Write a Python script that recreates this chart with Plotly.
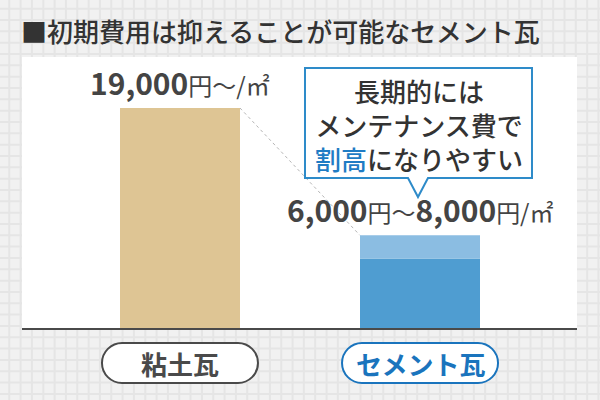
import plotly.graph_objects as go

# 屋根材ごとの初期費用（円/㎡）
categories = ["粘土瓦", "セメント瓦"]
cost_low = [19000, 6000]
cost_high = [19000, 8000]
price_main = ["19,000", "6,000"]
price_sub = ["", "8,000"]
category_colors = ["#4a4a4a", "#1a74bd"]

FONT = "Noto Sans CJK JP"

# 白いパネル（プロット領域）のピクセル位置
L, R, T, B = 22, 577, 57, 328


def fx(px):
    return (px - L) / (R - L)


def fy(py):
    return (B - py) / (B - T)


fig = go.Figure()

fig.add_trace(go.Bar(
    x=categories,
    y=cost_low,
    marker=dict(color=["#dec594", "#4f9dd1"], line=dict(width=0)),
    width=0.5,
    hoverinfo="skip",
))
fig.add_trace(go.Bar(
    x=categories,
    y=[h - l for h, l in zip(cost_high, cost_low)],
    base=cost_low,
    marker=dict(color="#8bbde2", line=dict(width=0)),
    width=0.5,
    hoverinfo="skip",
))

shapes = []

# 背景の方眼
grid = []
for k in range(54):
    x = fx(9.3 + k * 11.33)
    grid.append(f"M{x:.4f},{fy(0):.4f} L{x:.4f},{fy(400):.4f}")
for k in range(36):
    y = fy(8.7 + k * 11.33)
    grid.append(f"M{fx(0):.4f},{y:.4f} L{fx(600):.4f},{y:.4f}")
shapes.append(dict(type="path", xref="paper", yref="paper", path=" ".join(grid),
                   line=dict(color="#e5e5e5", width=2), layer="below"))

# 白いパネル
shapes.append(dict(type="rect", xref="paper", yref="paper", x0=0, x1=1, y0=0, y1=1,
                   fillcolor="white", line=dict(width=0), layer="below"))

# 棒の上端を結ぶ点線
shapes.append(dict(type="line", xref="x", yref="y",
                   x0=0.25, y0=cost_high[0], x1=0.75, y1=cost_high[1],
                   line=dict(color="#b5b5b5", width=1, dash="dot"), layer="below"))

# 吹き出し
box = [(305, 68), (532, 68), (532, 178), (428, 178), (418, 197), (408, 178), (305, 178)]
path = "M" + " L".join(f"{fx(px):.4f},{fy(py):.4f}" for px, py in box) + " Z"
shapes.append(dict(type="path", xref="paper", yref="paper", path=path,
                   fillcolor="white", line=dict(color="#2e8bc9", width=2), layer="above"))


def pill(cx, cy, w, h):
    r = h / 2
    k = 0.552 * r
    l, rr, t, b = cx - w / 2, cx + w / 2, cy - r, cy + r
    pts = [
        ("M", [(l + r, t)]),
        ("L", [(rr - r, t)]),
        ("C", [(rr - r + k, t), (rr, cy - k), (rr, cy)]),
        ("C", [(rr, cy + k), (rr - r + k, b), (rr - r, b)]),
        ("L", [(l + r, b)]),
        ("C", [(l + r - k, b), (l, cy + k), (l, cy)]),
        ("C", [(l, cy - k), (l + r - k, t), (l + r, t)]),
    ]
    s = ""
    for cmd, ps in pts:
        s += cmd + " ".join(f"{fx(px):.4f},{fy(py):.4f}" for px, py in ps) + " "
    return s + "Z"


for i, cat in enumerate(categories):
    cx = 180 + 240 * i
    shapes.append(dict(type="path", xref="paper", yref="paper", path=pill(cx, 363, 156, 40),
                       fillcolor="white", line=dict(color=category_colors[i], width=2),
                       layer="above"))

annotations = [
    dict(xref="paper", yref="paper", x=fx(19), y=fy(31), xanchor="left", yanchor="middle",
         text="■初期費用は抑えることが可能なセメント瓦", showarrow=False,
         font=dict(family=FONT, size=26, color="#333333", weight=500)),
    dict(xref="paper", yref="paper", x=fx(418.5), y=fy(124), xanchor="center", yanchor="middle",
         text="長期的には<br>メンテナンス費で<br><span style='color:#1f7cc4'>割高</span>になりやすい",
         showarrow=False, font=dict(family=FONT, size=26, color="#333333", weight=500)),
]

unit = "<span style='font-size:24px;font-weight:normal'>{}</span>"
for i, cat in enumerate(categories):
    if price_sub[i]:
        txt = f"<b>{price_main[i]}</b>" + unit.format("円～") + f"<b>{price_sub[i]}</b>" + unit.format("円/㎡")
    else:
        txt = f"<b>{price_main[i]}</b>" + unit.format("円～/㎡")
    annotations.append(dict(xref="x", yref="y", x=cat, y=cost_high[i], xanchor="center",
                            yanchor="bottom", yshift=2, text=txt, showarrow=False,
                            font=dict(family=FONT, size=30, color="#444444")))
    annotations.append(dict(xref="x", yref="paper", x=cat, y=fy(363), xanchor="center",
                            yanchor="middle", text=f"<b>{cat}</b>", showarrow=False,
                            font=dict(family=FONT, size=26, color=category_colors[i])))

fig.update_layout(
    width=600,
    height=400,
    margin=dict(l=L, r=600 - R, t=T, b=400 - B, pad=0),
    paper_bgcolor="#f1f1f1",
    plot_bgcolor="white",
    barmode="overlay",
    showlegend=False,
    shapes=shapes,
    annotations=annotations,
    font=dict(family=FONT),
)
fig.update_xaxes(range=[(L - 180) / 240, (R - 180) / 240], showticklabels=False,
                 showgrid=False, zeroline=False, showline=True, linecolor="#4a4a4a",
                 linewidth=2, ticks="", fixedrange=True)
fig.update_yaxes(range=[0, (B - T) * 19000 / 220], visible=False, showgrid=False,
                 zeroline=False, fixedrange=True)

fig.write_html("out.html", config={"displayModeBar": False},
               post_script="document.body.style.margin='0';")
